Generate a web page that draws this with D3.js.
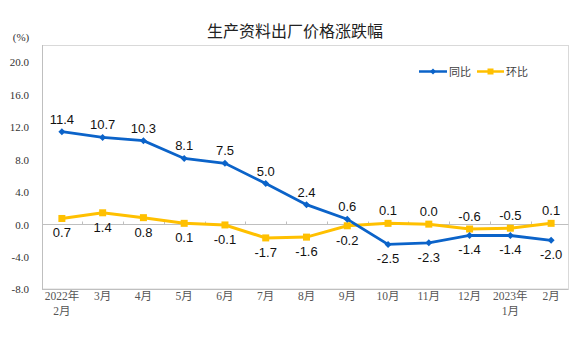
<!DOCTYPE html>
<html><head><meta charset="utf-8">
<script src="https://cdn.jsdelivr.net/npm/d3@7"></script>
<style>body{margin:0;background:#fff}svg{display:block}</style>
</head><body>
<svg id="c" width="576" height="343"></svg>
<script>
const categories = ["2022年\n2月","3月","4月","5月","6月","7月","8月","9月","10月","11月","12月","2023年\n1月","2月"];
const yoy = [11.4,10.7,10.3,8.1,7.5,5.0,2.4,0.6,-2.5,-2.3,-1.4,-1.4,-2.0];
const mom = [0.7,1.4,0.8,0.1,-0.1,-1.7,-1.6,-0.2,0.1,0.0,-0.6,-0.5,0.1];
const yTicks = [-8,-4,0,4,8,12,16,20];
const seriesNames = ["同比","环比"];

const svg = d3.select("#c");
const blue = "#0b63c9", yellow = "#ffc000";
const serif = "'Liberation Serif','Times New Roman','Noto Sans CJK SC',serif";
const sans = "'Liberation Sans',Arial,'Noto Sans CJK SC',sans-serif";
const cjk = "'Noto Sans CJK SC','Liberation Sans',sans-serif";
const fmt = v => v.toFixed(1);

const x = d3.scaleBand().domain(categories).range([41.5, 571.5]).padding(0);
const y = d3.scaleLinear().domain([-8, 20]).range([289, 62]);
const cx = i => x(categories[i]) + x.bandwidth()/2;

// frame
svg.append("rect").attr("x",42.5).attr("y",45.5).attr("width",526).attr("height",243.5)
  .attr("fill","none").attr("stroke","#d9d9d9").attr("stroke-width",1);
svg.append("line").attr("x1",42.5).attr("x2",42.5).attr("y1",45).attr("y2",289.5).attr("stroke","#bfbfbf");
svg.append("line").attr("x1",42).attr("x2",568.5).attr("y1",289.5).attr("y2",289.5).attr("stroke","#bfbfbf");

// y axis labels
const yAxis = d3.axisLeft(y).tickValues(yTicks).tickFormat(fmt).tickSize(0).tickPadding(0);
const ga = svg.append("g").attr("transform","translate(29,0)").call(yAxis);
ga.select(".domain").remove();
ga.selectAll("text").attr("font-family",serif).attr("font-size",11).attr("fill","#333").attr("dy","0.35em");

// zero line with category ticks
const y0 = Math.round(y(0)) + 0.5;
svg.append("line").attr("x1",42).attr("x2",568.5).attr("y1",y0).attr("y2",y0).attr("stroke","#bfbfbf");
categories.slice(1).forEach((c) => {
  const xx = Math.round(x(c)) + 0.5;
  svg.append("line").attr("x1",xx).attr("x2",xx).attr("y1",y0-3).attr("y2",y0).attr("stroke","#bfbfbf");
});

// x labels
categories.forEach((c,i) => {
  c.split("\n").forEach((l,j) => {
    svg.append("text").attr("x",cx(i)).attr("y",300 + j*15).attr("text-anchor","middle")
      .attr("font-family",serif).attr("font-size",11.5).attr("fill","#555").text(l);
  });
});

// title
svg.append("text").attr("x",295).attr("y",37).attr("text-anchor","middle")
  .attr("font-family",cjk).attr("font-size",16).attr("fill","#222").text("生产资料出厂价格涨跌幅");
svg.append("text").attr("x",21).attr("y",41).attr("text-anchor","middle")
  .attr("font-family",serif).attr("font-size",11).attr("fill","#333").text("(%)");

// lines
const line = d3.line().x((d,i)=>cx(i)).y(d=>y(d));
svg.append("path").datum(mom).attr("d",line).attr("fill","none").attr("stroke",yellow).attr("stroke-width",3);
svg.append("path").datum(yoy).attr("d",line).attr("fill","none").attr("stroke",blue).attr("stroke-width",2.8);

// markers
svg.selectAll(".sq").data(mom).enter().append("rect")
  .attr("x",(d,i)=>cx(i)-3.5).attr("y",d=>y(d)-3.5).attr("width",7).attr("height",7).attr("fill",yellow);
svg.selectAll(".dm").data(yoy).enter().append("path")
  .attr("d",(d,i)=>{const a=cx(i),b=y(d);return `M${a-3.5},${b}L${a},${b-3.5}L${a+3.5},${b}L${a},${b+3.5}Z`;})
  .attr("fill",blue);

// data labels
yoy.forEach((v,i) => {
  const above = v > mom[i];
  svg.append("text").attr("x",cx(i)).attr("y", above ? y(v)-8 : y(v)+19).attr("text-anchor","middle")
    .attr("font-family",sans).attr("font-size",13).attr("fill","#111").text(fmt(v));
  const m = mom[i];
  svg.append("text").attr("x",cx(i)).attr("y", above ? y(m)+19 : y(m)-8).attr("text-anchor","middle")
    .attr("font-family",sans).attr("font-size",13).attr("fill","#111").text(fmt(m));
});

// legend
const ly = 71.5;
svg.append("line").attr("x1",419).attr("x2",447).attr("y1",ly).attr("y2",ly).attr("stroke",blue).attr("stroke-width",2.5);
svg.append("path").attr("d",`M430,${ly}L433,${ly-3}L436,${ly}L433,${ly+3}Z`).attr("fill",blue);
svg.append("text").attr("x",449).attr("y",ly+4).attr("font-family",cjk).attr("font-size",11).attr("fill","#404040").text(seriesNames[0]);
svg.append("line").attr("x1",477).attr("x2",504).attr("y1",ly).attr("y2",ly).attr("stroke",yellow).attr("stroke-width",2.5);
svg.append("rect").attr("x",487.5).attr("y",ly-3).attr("width",6).attr("height",6).attr("fill",yellow);
svg.append("text").attr("x",506).attr("y",ly+4).attr("font-family",cjk).attr("font-size",11).attr("fill","#404040").text(seriesNames[1]);
</script>
</body></html>
